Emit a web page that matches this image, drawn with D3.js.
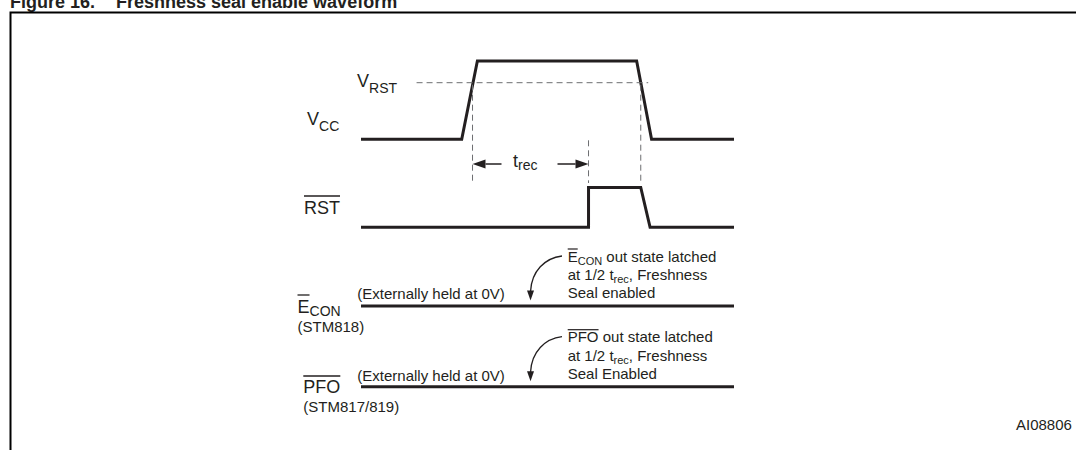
<!DOCTYPE html>
<html>
<head>
<meta charset="utf-8">
<script src="https://cdn.jsdelivr.net/npm/d3@7"></script>
<style>
  html, body { margin: 0; padding: 0; background: #fff; }
  svg { display: block; }
  text { font-family: "Liberation Sans", Arial, Helvetica, sans-serif; fill: #231f20; }
</style>
</head>
<body>
<svg id="chart" width="1076" height="450"></svg>
<script>
// ---------------- data (time in arbitrary units 0..100, levels normalised 0..1) ----------------
const vccTimes  = [0, 27.0, 31.2, 73.9, 77.9, 100];
const vccLevels = [0, 0, 1, 1, 0, 0];
const rstTimes  = [0, 61.0, 61.0, 75.0, 77.5, 100];
const rstLevels = [0, 0, 1, 1, 0, 0];
const econTimes  = [0, 100];
const econLevels = [0, 0];
const pfoTimes  = [0, 100];
const pfoLevels = [0, 0];
const vrstLevel = 0.723;            // V_RST threshold on the Vcc lane
const vrstSpan  = [14.9, 77.0];     // extent of the dashed threshold line
const markerTimes = [29.9, 61.0, 75.0]; // Vcc crosses V_RST (up), t_rec end, Vcc crosses V_RST (down)
const latchTime = (markerTimes[0] + markerTimes[1]) / 2;  // 1/2 t_rec
const figureNumber = "Figure 16.";
const figureTitle = "Freshness seal enable waveform";
const figureId = "AI08806";
const heldText = "(Externally held at 0V)";

// ---------------- layout ----------------
const svg = d3.select("#chart");
const x = d3.scaleLinear().domain([0, 100]).range([361, 734]);
const yVcc  = d3.scaleLinear().domain([0, 1]).range([139.3, 61]);
const yRst  = d3.scaleLinear().domain([0, 1]).range([227.3, 187.5]);
const yEcon = d3.scaleLinear().domain([0, 1]).range([306, 266]);
const yPfo  = d3.scaleLinear().domain([0, 1]).range([386.7, 346.7]);
const ink = "#231f20";
const dashCol = "#6d6e71";

// title (partially clipped at the top of the page)
svg.append("text").attr("x", 10).attr("y", 7.5)
  .attr("font-size", 18).attr("font-weight", "bold").text(figureNumber);
svg.append("text").attr("x", 116).attr("y", 7.5)
  .attr("font-size", 18).attr("font-weight", "bold").text(figureTitle);

// frame
svg.append("path").attr("d", "M10.5,1000 V12.5 H1100")
  .attr("fill", "none").attr("stroke", "#000").attr("stroke-width", 2);

// waveforms
function wave(times, levels, ys) {
  const pts = times.map((t, i) => [x(t), ys(levels[i])]);
  svg.append("path").datum(pts)
    .attr("d", d3.line())
    .attr("fill", "none").attr("stroke", ink)
    .attr("stroke-width", 3).attr("stroke-linejoin", "miter");
}
wave(vccTimes, vccLevels, yVcc);
wave(rstTimes, rstLevels, yRst);
wave(econTimes, econLevels, yEcon);
wave(pfoTimes, pfoLevels, yPfo);

// dashed V_RST line and markers
function dashed(x1, y1, x2, y2) {
  svg.append("line").attr("x1", x1).attr("y1", y1).attr("x2", x2).attr("y2", y2)
    .attr("stroke", dashCol).attr("stroke-width", 1).attr("stroke-dasharray", "6,4");
}
dashed(x(vrstSpan[0]), yVcc(vrstLevel), x(vrstSpan[1]), yVcc(vrstLevel));
dashed(x(markerTimes[0]), yVcc(vrstLevel) + 2, x(markerTimes[0]), 181);
dashed(x(markerTimes[1]), yVcc(0) + 1, x(markerTimes[1]), 183);
dashed(x(markerTimes[2]), yVcc(vrstLevel) + 2, x(markerTimes[2]), 181);

// t_rec arrows
const ya = 164;
function hArrow(xFrom, xTip) {
  const dir = Math.sign(xTip - xFrom);
  const base = xTip - dir * 13;
  svg.append("line").attr("x1", xFrom).attr("y1", ya).attr("x2", base).attr("y2", ya)
    .attr("stroke", ink).attr("stroke-width", 1.5);
  svg.append("path").attr("d", `M${xTip},${ya} L${base},${ya - 4.5} L${base},${ya + 4.5} Z`)
    .attr("fill", ink);
}
hArrow(501.5, x(markerTimes[0]));
hArrow(557.5, x(markerTimes[1]));
const trec = svg.append("text").attr("x", 513).attr("y", 167).attr("font-size", 18);
trec.append("tspan").text("t");
trec.append("tspan").attr("font-size", 14).attr("dy", 3).text("rec");

// signal labels
function label(xp, yp, main, sub, opts = {}) {
  const t = svg.append("text").attr("x", xp).attr("y", yp).attr("font-size", 18);
  const m = t.append("tspan").text(main);
  if (sub) t.append("tspan").attr("font-size", 14).attr("dy", opts.subDy || 5).text(sub);
  return { t, m };
}
function overline(node, yLine, full) {
  const bb = node.node().getBBox();
  const w = full ? bb.width : node.node().getComputedTextLength();
  svg.append("line").attr("x1", bb.x).attr("x2", bb.x + w)
    .attr("y1", yLine).attr("y2", yLine).attr("stroke", ink).attr("stroke-width", 1.3);
}
label(357, 87, "V", "RST", { subDy: 6 });
label(307, 125, "V", "CC", { subDy: 6 });
const rstLab = label(304, 213.5, "RST");
overline(rstLab.t, 196, true);
const econLab = label(297.5, 312.5, "E", "CON", { subDy: 3.5 });
{
  const n = econLab.t.node();
  const w = n.getSubStringLength(0, 1);
  svg.append("line").attr("x1", 297.5).attr("x2", 297.5 + w)
    .attr("y1", 295).attr("y2", 295).attr("stroke", ink).attr("stroke-width", 1.3);
}
svg.append("text").attr("x", 297.5).attr("y", 331.5).attr("font-size", 15).text("(STM818)");
const pfoLab = label(303.3, 393.3, "PFO");
overline(pfoLab.t, 376, true);
svg.append("text").attr("x", 303.3).attr("y", 411.7).attr("font-size", 15).text("(STM817/819)");

// "externally held" notes
svg.append("text").attr("x", 357.3).attr("y", yEcon(0) - 6.7).attr("font-size", 15).text(heldText);
svg.append("text").attr("x", 357.3).attr("y", yPfo(0) - 5.7).attr("font-size", 15).text(heldText);

// latch annotations with curved arrows
function latchNote(ys, barFull, firstMain, firstSub, lastLine) {
  const y0 = ys(0);
  const tipX = x(latchTime);
  const tipY = y0 - 5.5;
  const sx = 562, sy = y0 - 50;
  svg.append("path")
    .attr("d", `M${sx},${sy} C${sx - 17},${sy + 2} ${tipX + 1},${sy + 15} ${tipX},${tipY - 9}`)
    .attr("fill", "none").attr("stroke", ink).attr("stroke-width", 1.3);
  svg.append("path")
    .attr("d", `M${tipX},${tipY} L${tipX - 3.5},${tipY - 10} L${tipX + 3.5},${tipY - 10} Z`)
    .attr("fill", ink);
  const tx = 567.7;
  const l1 = svg.append("text").attr("x", tx).attr("y", y0 - 44.3).attr("font-size", 15);
  l1.append("tspan").text(firstMain);
  if (firstSub) l1.append("tspan").attr("font-size", 11).attr("dy", 3).text(firstSub);
  l1.append("tspan").attr("dy", firstSub ? -3 : 0).text(" out state latched");
  const w = barFull ? l1.node().getSubStringLength(0, firstMain.length)
                    : l1.node().getSubStringLength(0, 1);
  svg.append("line").attr("x1", tx).attr("x2", tx + w)
    .attr("y1", y0 - 57).attr("y2", y0 - 57).attr("stroke", ink).attr("stroke-width", 1.2);
  const l2 = svg.append("text").attr("x", tx).attr("y", y0 - 26).attr("font-size", 15);
  l2.append("tspan").text("at 1/2 t");
  l2.append("tspan").attr("font-size", 11).attr("dy", 3).text("rec");
  l2.append("tspan").attr("dy", -3).text(", Freshness");
  svg.append("text").attr("x", tx).attr("y", y0 - 7.7).attr("font-size", 15).text(lastLine);
}
latchNote(yEcon, false, "E", "CON", "Seal enabled");
latchNote(yPfo, true, "PFO", null, "Seal Enabled");

// figure id
svg.append("text").attr("x", 1016).attr("y", 430).attr("font-size", 15).text(figureId);
</script>
</body>
</html>
